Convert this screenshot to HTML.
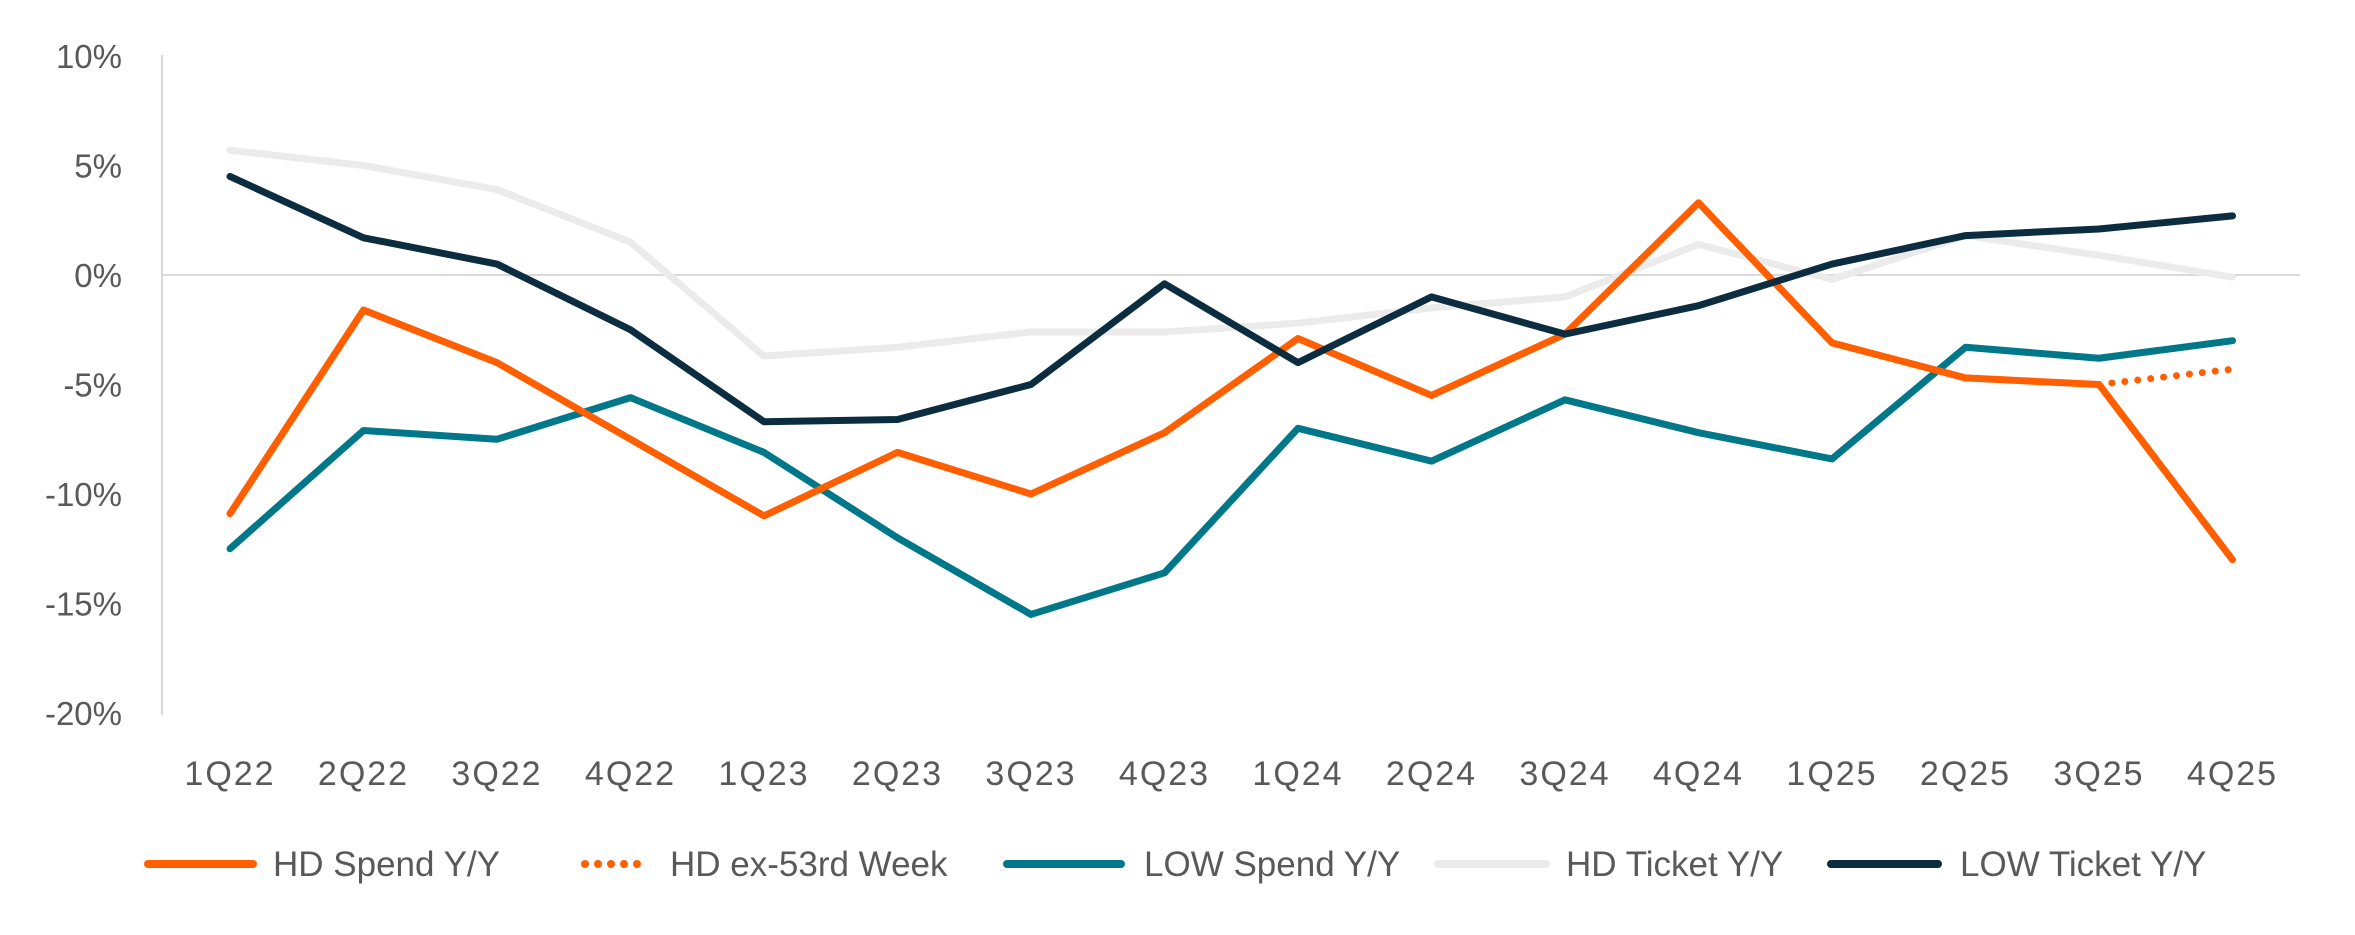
<!DOCTYPE html>
<html><head><meta charset="utf-8"><style>
html,body{margin:0;padding:0;background:#fff;}
svg{display:block;font-family:"Liberation Sans",sans-serif;}
</style></head><body>
<svg id="c" width="2355" height="935" viewBox="0 0 2355 935" xmlns="http://www.w3.org/2000/svg">
<line x1="162" y1="55" x2="162" y2="715" stroke="#d9d9d9" stroke-width="2"/>
<line x1="162" y1="275" x2="2300" y2="275" stroke="#d9d9d9" stroke-width="2"/>
<g id="yl" fill="#595959" font-size="33" text-anchor="end"></g>
<g id="xl" fill="#595959" font-size="34" text-anchor="middle" letter-spacing="2"></g>
<g id="ser" fill="none" stroke-width="7" stroke-linejoin="round" stroke-linecap="round"></g>
<g font-size="35" fill="#595959">
<line x1="148" y1="864" x2="253" y2="864" stroke="#ff5f00" stroke-width="8" stroke-linecap="round"/>
<text x="273" y="876">HD Spend Y/Y</text>
<line x1="585" y1="864" x2="649" y2="864" stroke="#ff5f00" stroke-width="8" stroke-linecap="round" stroke-dasharray="0 13"/>
<text x="670" y="876">HD ex-53rd Week</text>
<line x1="1007" y1="864" x2="1121" y2="864" stroke="#00788a" stroke-width="8" stroke-linecap="round"/>
<text x="1144" y="876">LOW Spend Y/Y</text>
<line x1="1438" y1="864" x2="1546" y2="864" stroke="#ebebeb" stroke-width="8" stroke-linecap="round"/>
<text x="1566" y="876">HD Ticket Y/Y</text>
<line x1="1831" y1="864" x2="1938" y2="864" stroke="#0b2d3f" stroke-width="8" stroke-linecap="round"/>
<text x="1960" y="876">LOW Ticket Y/Y</text>
</g>
</svg>
<script>
const ns="http://www.w3.org/2000/svg";
const Y=p=>275-p*21.9, X=i=>230+i*133.5;
const yl=document.getElementById('yl');
for(let v=10;v>=-20;v-=5){const t=document.createElementNS(ns,'text');t.setAttribute('x',122);t.setAttribute('y',Y(v)+12);t.textContent=v+'%';yl.appendChild(t);}
const q=['1Q22','2Q22','3Q22','4Q22','1Q23','2Q23','3Q23','4Q23','1Q24','2Q24','3Q24','4Q24','1Q25','2Q25','3Q25','4Q25'];
const xl=document.getElementById('xl');
q.forEach((s,i)=>{const t=document.createElementNS(ns,'text');t.setAttribute('x',X(i));t.setAttribute('y',785);t.textContent=s;xl.appendChild(t);});
const S=[
['#ebebeb',[5.7,5.0,3.9,1.5,-3.7,-3.3,-2.6,-2.6,-2.2,-1.5,-1.0,1.4,-0.2,1.8,0.9,-0.1]],
['#00788a',[-12.5,-7.1,-7.5,-5.6,-8.1,-12.0,-15.5,-13.6,-7.0,-8.5,-5.7,-7.2,-8.4,-3.3,-3.8,-3.0]],
['#ff5f00',[-10.9,-1.6,-4.0,-7.5,-11.0,-8.1,-10.0,-7.2,-2.9,-5.5,-2.7,3.3,-3.1,-4.7,-5.0,-13.0]],
['#0b2d3f',[4.5,1.7,0.5,-2.5,-6.7,-6.6,-5.0,-0.4,-4.0,-1.0,-2.7,-1.4,0.5,1.8,2.1,2.7]]
];
const g=document.getElementById('ser');
S.forEach(([c,d])=>{const p=document.createElementNS(ns,'polyline');p.setAttribute('points',d.map((v,i)=>X(i)+','+Y(v)).join(' '));p.setAttribute('stroke',c);g.appendChild(p);});
const dl=document.createElementNS(ns,'line');
dl.setAttribute('x1',X(14));dl.setAttribute('y1',Y(-5.0));dl.setAttribute('x2',X(15));dl.setAttribute('y2',Y(-4.3));
dl.setAttribute('stroke','#ff5f00');dl.setAttribute('stroke-dasharray','0 13');dl.setAttribute('stroke-width','7');dl.setAttribute('stroke-linecap','round');
g.appendChild(dl);
</script>
</body></html>
